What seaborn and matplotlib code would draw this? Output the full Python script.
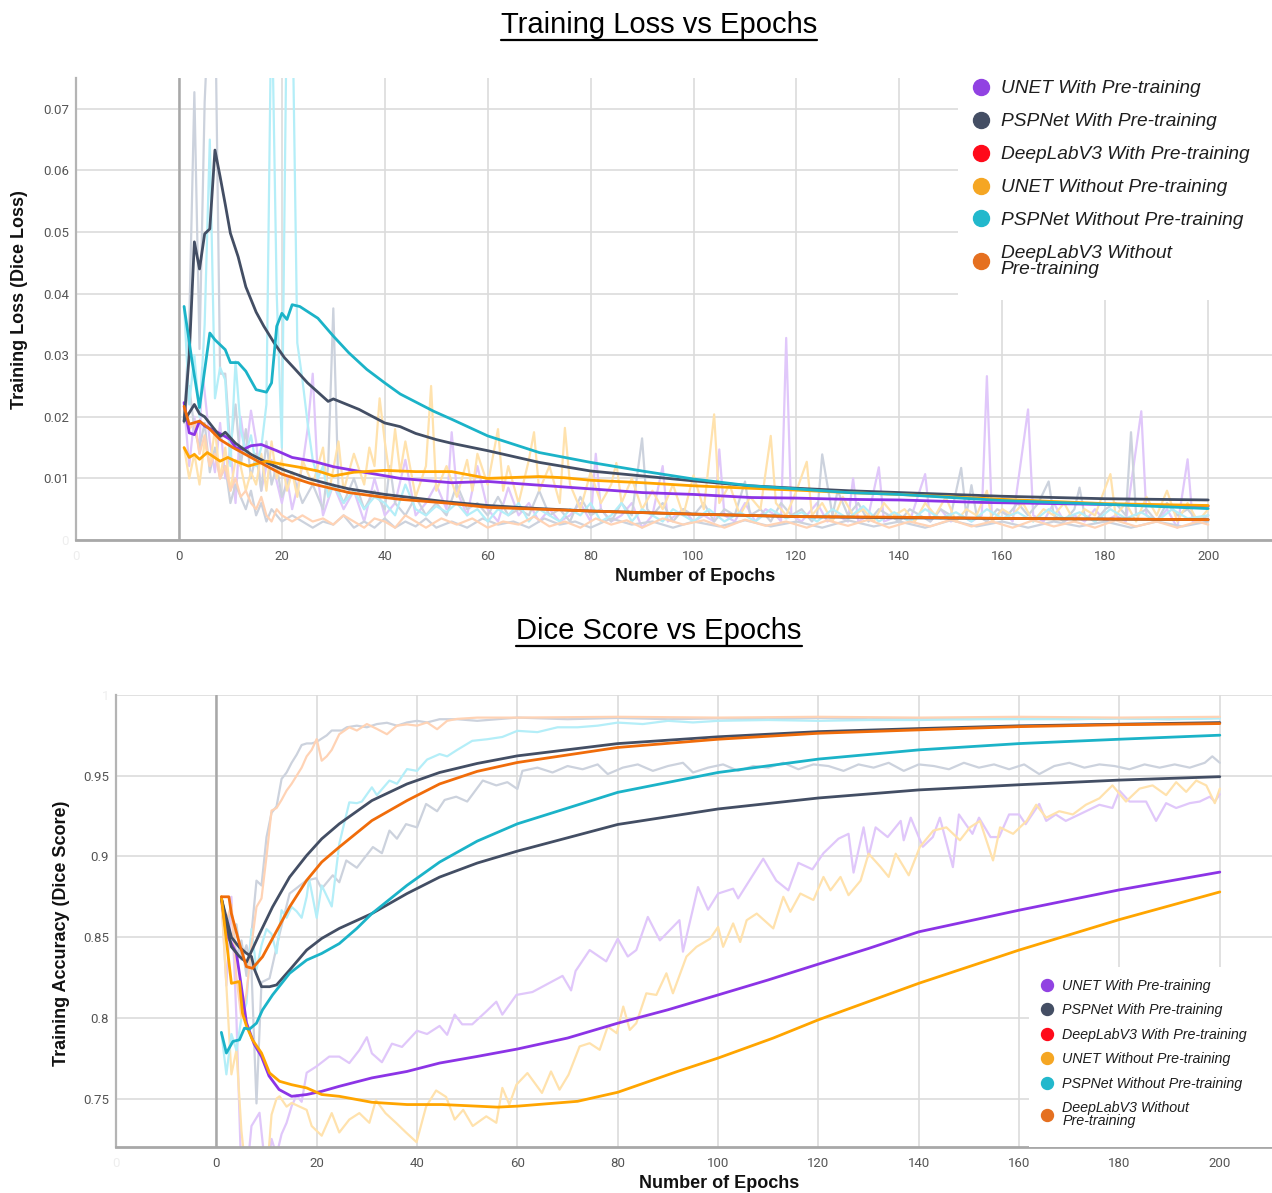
import matplotlib
matplotlib.use("Agg")
import matplotlib.pyplot as plt
from matplotlib.lines import Line2D
from matplotlib.patches import Rectangle
import pandas as pd
import seaborn as sns

# ---- data (epoch, value) ----
legend_names = [
    "UNET With Pre-training",
    "PSPNet With Pre-training",
    "DeepLabV3 With Pre-training",
    "UNET Without Pre-training",
    "PSPNet Without Pre-training",
    "DeepLabV3 Without\nPre-training",
]
series_keys = ["unet_pre", "psp_pre", "dlv3_pre", "unet_nopre", "psp_nopre", "dlv3_nopre"]

# training loss, raw per-epoch curves
loss_unet_pre_raw = [(1,0.022),(2,0.012),(3,0.020),(4,0.014),(4.5,0.028),(6,0.016),(7,0.011),(8,0.019),(9,0.010),(10,0.015),(11,0.006),(12,0.020),(13,0.014),(14,0.021),(15,0.016),(16,0.008),(17,0.012),(18,0.013),(20,0.006),(21,0.010),(22,0.005),(24,0.012),(25,0.018),(26,0.027),(27,0.010),(28,0.004),(30,0.009),(32,0.005),(34,0.008),(36,0.003),(38,0.010),(40,0.004),(42,0.006),(44,0.013),(46,0.004),(48,0.006),(50,0.009),(52,0.005),(53,0.0175),(54,0.008),(56,0.004),(58,0.012),(60,0.005),(62,0.003),(64,0.0085),(66,0.004),(68,0.006),(70,0.003),(72,0.005),(74,0.003),(76,0.004),(78,0.006),(80,0.003),(81,0.014),(82,0.005),(84,0.003),(86,0.004),(88,0.006),(90,0.002),(92,0.004),(94,0.012),(95,0.003),(98,0.005),(100,0.003),(102,0.004),(104,0.003),(105,0.0147),(106,0.004),(108,0.003),(110,0.006),(112,0.003),(114,0.005),(116,0.004),(117,0.003),(118,0.0328),(119,0.004),(121,0.003),(124,0.006),(126,0.003),(128,0.004),(130,0.003),(131,0.010),(132,0.003),(134,0.004),(136,0.0118),(137,0.003),(140,0.004),(142,0.003),(145,0.0107),(146,0.003),(148,0.005),(150,0.003),(152,0.004),(154,0.003),(156,0.004),(157,0.0266),(158,0.003),(160,0.005),(162,0.003),(165,0.0212),(166,0.004),(168,0.003),(170,0.006),(172,0.003),(174,0.004),(176,0.003),(178,0.005),(180,0.003),(182,0.004),(184,0.003),(187,0.0209),(188,0.004),(190,0.003),(192,0.005),(194,0.002),(196,0.0131),(197,0.003),(200,0.004)]
loss_psp_pre_raw = [(1,0.019),(2,0.035),(3,0.0727),(4,0.031),(5,0.0711),(6,0.09),(7,0.09),(8,0.027),(9,0.027),(10,0.015),(11,0.022),(12,0.012),(13,0.018),(14,0.010),(15,0.014),(16,0.008),(17,0.016),(18,0.009),(19,0.012),(20,0.007),(22,0.011),(24,0.006),(26,0.009),(28,0.005),(29,0.012),(30,0.0376),(31,0.008),(32,0.006),(34,0.010),(36,0.005),(38,0.008),(40,0.005),(41,0.012),(42,0.006),(44,0.004),(46,0.007),(48,0.004),(50,0.006),(52,0.004),(54,0.009),(56,0.005),(58,0.006),(60,0.004),(62,0.007),(64,0.004),(66,0.005),(68,0.004),(70,0.008),(72,0.004),(74,0.005),(76,0.003),(78,0.007),(80,0.004),(82,0.005),(84,0.003),(86,0.006),(88,0.004),(90,0.0165),(91,0.005),(92,0.004),(94,0.006),(96,0.003),(98,0.005),(100,0.004),(102,0.006),(104,0.003),(106,0.005),(108,0.004),(110,0.0095),(111,0.004),(113,0.005),(115,0.003),(117,0.006),(119,0.004),(121,0.005),(123,0.003),(124,0.004),(125,0.0139),(127,0.004),(128,0.008),(130,0.004),(132,0.006),(134,0.003),(136,0.005),(138,0.004),(140,0.003),(142,0.005),(144,0.004),(146,0.003),(148,0.005),(150,0.004),(152,0.0117),(153,0.004),(154,0.0089),(155,0.004),(157,0.003),(159,0.005),(161,0.004),(163,0.006),(165,0.004),(167,0.006),(169,0.0095),(170,0.004),(172,0.003),(174,0.005),(175,0.0085),(176,0.004),(178,0.003),(180,0.005),(182,0.006),(184,0.004),(185,0.0175),(186,0.004),(188,0.005),(190,0.003),(192,0.006),(194,0.004),(196,0.005),(198,0.003),(200,0.004)]
loss_dlv3_pre_raw = [(1,0.020),(2,0.025),(3,0.018),(4,0.015),(5,0.019),(6,0.011),(7,0.015),(8,0.010),(9,0.012),(10,0.006),(11,0.009),(12,0.007),(13,0.005),(14,0.008),(15,0.004),(16,0.006),(17,0.003),(18,0.005),(20,0.003),(22,0.004),(24,0.003),(26,0.002),(28,0.003),(30,0.0025),(32,0.004),(34,0.002),(36,0.003),(38,0.002),(40,0.0035),(42,0.002),(44,0.003),(46,0.0022),(48,0.0035),(50,0.002),(53,0.003),(56,0.002),(59,0.0035),(62,0.0025),(65,0.003),(68,0.002),(71,0.0035),(74,0.0025),(77,0.003),(80,0.002),(84,0.0035),(88,0.0025),(92,0.003),(96,0.002),(100,0.003),(105,0.0022),(110,0.0032),(115,0.0022),(120,0.003),(125,0.002),(130,0.0032),(135,0.0022),(140,0.003),(145,0.002),(150,0.0032),(155,0.0022),(160,0.003),(165,0.002),(170,0.003),(175,0.0022),(180,0.003),(185,0.002),(190,0.003),(195,0.0022),(200,0.003)]
loss_unet_nopre_raw = [(1,0.015),(2,0.010),(3,0.014),(4,0.009),(5,0.016),(6,0.012),(7,0.018),(8,0.010),(9,0.015),(10,0.008),(11,0.013),(12,0.012),(13,0.008),(14,0.011),(15,0.009),(16,0.014),(17,0.008),(18,0.016),(19,0.010),(20,0.013),(21,0.008),(22,0.011),(23,0.007),(24,0.013),(26,0.009),(28,0.015),(29,0.007),(31,0.016),(32,0.008),(34,0.014),(36,0.009),(37,0.015),(38,0.012),(39,0.023),(40,0.016),(41,0.010),(42,0.018),(43,0.011),(44,0.016),(46,0.007),(48,0.012),(49,0.025),(50,0.008),(52,0.012),(54,0.007),(56,0.013),(57,0.008),(58,0.014),(60,0.009),(62,0.018),(63,0.008),(64,0.012),(66,0.006),(68,0.013),(69,0.0175),(70,0.008),(72,0.012),(74,0.006),(75,0.0182),(76,0.009),(78,0.005),(80,0.011),(82,0.006),(84,0.009),(85,0.0125),(86,0.006),(88,0.010),(90,0.005),(92,0.008),(94,0.005),(96,0.009),(98,0.004),(100,0.0105),(102,0.005),(104,0.0204),(105,0.006),(107,0.009),(109,0.004),(111,0.007),(113,0.005),(115,0.0169),(116,0.006),(118,0.004),(120,0.008),(122,0.0127),(123,0.004),(125,0.006),(127,0.003),(129,0.007),(131,0.004),(133,0.005),(135,0.003),(137,0.006),(139,0.004),(141,0.005),(143,0.003),(145,0.006),(147,0.004),(149,0.007),(151,0.003),(153,0.005),(155,0.004),(157,0.008),(158,0.003),(160,0.005),(162,0.004),(164,0.006),(166,0.003),(168,0.005),(170,0.004),(172,0.006),(174,0.003),(176,0.005),(178,0.004),(181,0.0107),(182,0.004),(184,0.006),(186,0.003),(188,0.007),(190,0.004),(192,0.008),(194,0.003),(196,0.006),(198,0.003),(200,0.005)]
loss_psp_nopre_raw = [(1,0.038),(2,0.022),(3,0.030),(4,0.020),(5,0.035),(6,0.065),(7,0.023),(8,0.028),(9,0.026),(10,0.012),(11,0.029),(12,0.018),(13,0.014),(14,0.017),(15,0.012),(16,0.015),(17,0.022),(18,0.09),(19,0.04),(20,0.015),(21,0.09),(22,0.09),(23,0.032),(24,0.026),(25,0.019),(26,0.013),(27,0.010),(28,0.012),(29,0.007),(30,0.009),(32,0.006),(34,0.008),(36,0.005),(38,0.007),(40,0.006),(42,0.004),(44,0.009),(46,0.005),(48,0.004),(50,0.0055),(52,0.0045),(54,0.006),(56,0.004),(58,0.005),(60,0.003),(62,0.005),(64,0.004),(66,0.006),(68,0.003),(70,0.005),(72,0.004),(74,0.003),(76,0.005),(78,0.004),(80,0.006),(82,0.003),(84,0.004),(86,0.006),(88,0.003),(90,0.005),(92,0.004),(94,0.003),(96,0.005),(98,0.004),(100,0.003),(103,0.005),(106,0.003),(109,0.0045),(112,0.003),(115,0.005),(118,0.0035),(121,0.0045),(124,0.003),(127,0.005),(130,0.0035),(133,0.0055),(136,0.003),(139,0.0045),(142,0.003),(145,0.005),(148,0.0035),(151,0.0045),(154,0.003),(157,0.005),(160,0.0035),(163,0.0045),(166,0.003),(169,0.005),(172,0.0035),(175,0.0045),(178,0.003),(181,0.005),(184,0.0035),(187,0.0045),(190,0.003),(193,0.005),(196,0.0035),(200,0.004)]
loss_dlv3_nopre_raw = [(1,0.021),(2,0.018),(3,0.019),(4,0.014),(5,0.017),(6,0.012),(7,0.014),(8,0.010),(9,0.012),(10,0.008),(11,0.010),(12,0.007),(13,0.008),(14,0.006),(15,0.005),(16,0.007),(17,0.004),(18,0.003),(19,0.005),(20,0.004),(22,0.003),(24,0.004),(26,0.003),(28,0.0035),(30,0.0025),(32,0.004),(34,0.003),(36,0.002),(38,0.0035),(40,0.003),(42,0.002),(44,0.004),(46,0.003),(48,0.002),(51,0.0035),(54,0.0025),(57,0.0035),(60,0.002),(63,0.003),(66,0.0025),(69,0.0038),(72,0.0022),(75,0.003),(78,0.002),(81,0.0035),(84,0.0025),(87,0.0032),(90,0.002),(94,0.0035),(98,0.0025),(102,0.0032),(106,0.002),(110,0.0033),(114,0.0023),(118,0.003),(122,0.002),(126,0.0032),(130,0.0023),(134,0.0033),(138,0.002),(142,0.003),(146,0.0022),(150,0.0033),(154,0.0022),(158,0.003),(162,0.002),(166,0.0032),(170,0.0022),(174,0.003),(178,0.002),(182,0.0032),(186,0.0022),(190,0.003),(194,0.002),(198,0.003),(200,0.0025)]

# training loss, smoothed curves
loss_unet_pre = [(1,0.0223),(2,0.0174),(3,0.0171),(4,0.0193),(5,0.0185),(7,0.0177),(9,0.0168),(10,0.0163),(11,0.0150),(12.5,0.0147),(14,0.0153),(16,0.0155),(19,0.0145),(22,0.0134),(26,0.0128),(30,0.0119),(36,0.0110),(43,0.0100),(53,0.0093),(60,0.0095),(70,0.0089),(80,0.0083),(90,0.0077),(100,0.0074),(111,0.0069),(120,0.0068),(130,0.0066),(140,0.0065),(156,0.0061),(200,0.0055)]
loss_psp_pre = [(1,0.0193),(2,0.030),(3,0.0484),(4,0.0440),(5,0.0497),(6,0.0505),(7,0.0633),(8,0.0590),(9,0.0545),(10,0.0498),(11.5,0.0460),(13,0.0411),(15,0.0370),(16.5,0.0347),(18.5,0.0320),(20.5,0.0296),(22.5,0.0278),(25,0.0255),(29,0.0225),(30,0.0229),(35,0.0212),(40,0.0190),(43,0.0184),(46,0.0173),(50,0.0163),(53,0.0157),(60,0.0145),(70,0.0126),(80,0.0112),(90,0.0104),(100,0.0096),(111,0.0088),(120,0.0084),(130,0.0080),(140,0.0077),(160,0.0071),(180,0.0067),(200,0.0065)]
loss_dlv3_pre = [(1,0.0193),(3,0.0220),(4,0.0205),(5,0.0200),(6.5,0.0184),(8,0.0168),(9,0.0175),(11,0.0157),(14,0.0139),(17.5,0.0124),(20,0.0115),(25,0.0100),(30,0.0089),(33,0.0083),(40,0.0074),(43,0.0071),(52,0.0062),(60,0.0056),(70,0.0051),(80,0.0047),(100,0.0042),(120,0.0038),(140,0.0036),(160,0.0035),(180,0.0034),(200,0.0033)]
loss_unet_nopre = [(1,0.0150),(2,0.0134),(3,0.0139),(4,0.0131),(5.5,0.0142),(8,0.0128),(9.5,0.0134),(11,0.0128),(13.5,0.0120),(17,0.0128),(20,0.0123),(23.5,0.0118),(27,0.0112),(30,0.0104),(34,0.0110),(40,0.0113),(46,0.0111),(53,0.0111),(60,0.0100),(70,0.0103),(75,0.0101),(80,0.0097),(90,0.0093),(100,0.0088),(111,0.0084),(120,0.0081),(130,0.0077),(140,0.0074),(160,0.0066),(180,0.0059),(200,0.0056)]
loss_psp_nopre = [(1,0.0379),(2.5,0.0293),(4,0.0215),(6,0.0336),(7,0.0325),(9,0.0309),(10,0.0288),(11.5,0.0288),(13,0.0274),(15,0.0244),(17,0.0240),(18,0.0255),(19,0.0347),(20,0.0368),(21,0.0358),(22,0.0382),(23.5,0.0379),(27,0.0360),(30,0.0331),(33,0.0304),(36.5,0.0277),(40,0.0255),(43,0.0237),(49.5,0.0209),(53,0.0196),(60,0.0169),(70,0.0142),(80,0.0126),(90,0.0112),(100,0.0099),(111,0.0088),(120,0.0083),(130,0.0077),(140,0.0074),(160,0.0064),(180,0.0058),(200,0.0051)]
loss_dlv3_nopre = [(1,0.0217),(2,0.0188),(4,0.0193),(6,0.0180),(8,0.0163),(10.5,0.0150),(14,0.0134),(17.5,0.0118),(20,0.0107),(25.5,0.0092),(33,0.0077),(40,0.0069),(43,0.0066),(52,0.0060),(60,0.0053),(80,0.0047),(100,0.0042),(120,0.0038),(140,0.0037),(160,0.0035),(180,0.0034),(200,0.0033)]

# dice score, raw per-epoch curves
dice_unet_pre_raw = [(1,0.874),(2,0.82),(3,0.875),(4,0.80),(5,0.70),(6,0.70),(7,0.733),(8.6,0.7412),(10,0.70),(11,0.725),(12,0.715),(13,0.728),(14,0.735),(15,0.7453),(16,0.752),(17,0.748),(18,0.766),(20,0.770),(22.5,0.776),(24.5,0.776),(26.5,0.772),(28.5,0.780),(30,0.788),(31,0.778),(33,0.7725),(35,0.784),(37,0.782),(40,0.792),(42,0.790),(44.5,0.795),(46,0.7895),(47.5,0.802),(49,0.796),(51,0.796),(53.8,0.804),(55.8,0.810),(57,0.802),(59.8,0.8142),(63,0.816),(66,0.821),(69,0.826),(70.7,0.817),(71.6,0.829),(74.4,0.842),(77.7,0.835),(80,0.849),(82,0.838),(83.7,0.842),(86,0.8625),(88.4,0.848),(92.3,0.8605),(93,0.841),(96,0.881),(98,0.867),(100,0.877),(103,0.880),(104,0.874),(109,0.8986),(111.6,0.885),(114,0.879),(116,0.896),(118.8,0.892),(121,0.902),(124,0.911),(126,0.914),(127,0.890),(129,0.918),(130,0.900),(131.4,0.918),(133.8,0.912),(136.4,0.922),(137,0.910),(138.4,0.924),(140.8,0.906),(142.8,0.912),(144.2,0.924),(146.8,0.8934),(148,0.926),(150.7,0.914),(152,0.924),(154.3,0.912),(156,0.912),(158,0.926),(160,0.926),(161.3,0.920),(164,0.9325),(165.4,0.922),(167.3,0.926),(169.3,0.922),(172,0.926),(174,0.929),(176,0.932),(178.6,0.930),(180,0.9407),(182,0.934),(185.3,0.934),(187.3,0.922),(189.3,0.933),(191.3,0.930),(194,0.933),(196,0.934),(198,0.937),(199,0.934),(200,0.9385)]
dice_psp_pre_raw = [(1,0.874),(2,0.86),(3,0.85),(4,0.858),(5,0.836),(6,0.845),(7,0.83),(8,0.747),(9,0.822),(10.6,0.8245),(12.6,0.852),(14.6,0.877),(17.9,0.885),(19.9,0.8865),(21,0.880),(23.2,0.8883),(24.5,0.884),(25.9,0.8975),(28,0.893),(31.2,0.9058),(33,0.902),(34.5,0.916),(36,0.911),(37.8,0.920),(40,0.918),(41.8,0.9325),(44,0.928),(45.5,0.935),(47.8,0.937),(50,0.934),(53.1,0.947),(55.8,0.944),(58,0.946),(60,0.9418),(61,0.953),(64,0.955),(67,0.952),(70,0.956),(73,0.954),(76,0.957),(78,0.951),(81,0.955),(84,0.957),(87,0.953),(90,0.956),(93,0.958),(95,0.952),(98,0.955),(101,0.957),(104,0.953),(107,0.956),(110,0.955),(113,0.958),(116,0.954),(119,0.957),(122,0.956),(125,0.953),(128,0.957),(131,0.955),(134,0.958),(137,0.953),(140,0.957),(143,0.956),(146,0.954),(149,0.958),(152,0.955),(155,0.957),(158,0.954),(161,0.957),(164,0.951),(167,0.956),(170,0.958),(173,0.955),(176,0.957),(179,0.956),(182,0.954),(185,0.957),(188,0.955),(191,0.957),(194,0.955),(197,0.958),(198.5,0.962),(200,0.958)]
dice_dlv3_pre_raw = [(1,0.874),(2,0.858),(3,0.866),(4,0.838),(5,0.848),(6,0.826),(7,0.852),(8,0.885),(9,0.882),(10,0.912),(11,0.927),(12,0.931),(13,0.948),(14,0.952),(15,0.958),(16,0.963),(17,0.969),(18,0.970),(19,0.970),(20,0.971),(22,0.975),(23,0.978),(25,0.978),(26,0.980),(28,0.981),(30,0.980),(32,0.982),(34,0.9828),(36,0.981),(38,0.983),(40,0.984),(42,0.983),(44.5,0.985),(48,0.985),(52,0.984),(56,0.985),(60,0.986),(70,0.985),(80,0.9858),(90,0.985),(100,0.9855),(110,0.985),(120,0.9858),(130,0.985),(140,0.9855),(150,0.985),(160,0.9858),(170,0.985),(180,0.9855),(190,0.985),(200,0.9858)]
dice_unet_nopre_raw = [(1,0.875),(2,0.82),(3,0.765),(4,0.78),(5,0.73),(6,0.70),(7,0.71),(8,0.70),(9,0.715),(10,0.70),(11,0.74),(12,0.75),(12.6,0.7514),(14,0.745),(15,0.7473),(18,0.743),(19,0.733),(21,0.727),(23,0.741),(24.5,0.729),(26.5,0.737),(28.5,0.741),(30.5,0.735),(31.8,0.749),(33.7,0.741),(35.8,0.735),(37.8,0.729),(39.9,0.723),(41.8,0.745),(43.8,0.755),(45.8,0.751),(47.5,0.737),(49.2,0.743),(51.1,0.733),(53.8,0.739),(55.8,0.735),(57,0.7566),(58.4,0.7463),(59.8,0.7586),(62,0.7658),(64.9,0.7535),(66.7,0.7668),(68.4,0.7555),(70.2,0.7648),(72.4,0.7823),(74.4,0.7843),(76.4,0.7802),(78,0.7946),(79.8,0.7905),(81.1,0.807),(82.4,0.7925),(83.7,0.7967),(85.7,0.8152),(87.7,0.8142),(89.7,0.8276),(91,0.8152),(93.7,0.838),(95.7,0.844),(98.4,0.849),(100,0.8563),(101,0.844),(103,0.8585),(104.4,0.847),(105.7,0.8605),(107.7,0.8646),(111,0.8554),(113,0.875),(114.4,0.8657),(116.4,0.877),(119,0.873),(121,0.8873),(122.4,0.879),(124.4,0.8873),(126,0.876),(128.4,0.885),(130,0.9017),(132.4,0.8934),(134,0.8873),(135.4,0.9017),(138,0.8883),(140.2,0.9058),(142.9,0.916),(145.5,0.918),(148.2,0.910),(150.2,0.918),(152.2,0.922),(154.8,0.8975),(156.2,0.918),(158.8,0.914),(161.5,0.922),(163.4,0.932),(165.4,0.924),(168,0.928),(170.7,0.926),(173.3,0.932),(176,0.936),(178.6,0.944),(181.3,0.934),(184,0.942),(186.6,0.944),(189.3,0.938),(191.3,0.946),(193.3,0.940),(195.3,0.947),(197.3,0.944),(199,0.933),(200,0.942)]
dice_psp_nopre_raw = [(1,0.791),(2,0.765),(3,0.79),(4,0.78),(5,0.80),(6,0.809),(7,0.855),(8,0.83),(9,0.845),(10,0.855),(11,0.852),(12,0.84),(13,0.8667),(14,0.862),(15,0.8687),(16,0.866),(17,0.862),(18,0.875),(18.5,0.886),(20,0.862),(21,0.882),(23,0.869),(24.5,0.9078),(26.5,0.9335),(28,0.933),(29,0.934),(31,0.9428),(32,0.938),(34.5,0.947),(36,0.945),(38,0.9541),(40,0.953),(42,0.960),(44.5,0.9634),(46,0.962),(48,0.966),(51,0.9716),(54,0.9726),(57,0.974),(60,0.9778),(64,0.977),(68,0.980),(72,0.980),(76,0.981),(80,0.9829),(85,0.982),(90,0.984),(95,0.983),(100,0.984),(110,0.9845),(120,0.984),(130,0.9845),(140,0.9845),(150,0.985),(160,0.985),(170,0.985),(180,0.9855),(190,0.985),(200,0.9855)]
dice_dlv3_nopre_raw = [(1,0.875),(2,0.86),(3,0.87),(4,0.825),(5,0.80),(6,0.815),(7,0.845),(8,0.8687),(9,0.874),(10,0.90),(11,0.9284),(12,0.93),(13,0.935),(14,0.9408),(15,0.945),(16,0.950),(17,0.955),(18,0.962),(19,0.966),(20,0.9727),(21,0.9593),(22,0.962),(23,0.966),(24.5,0.9757),(26.5,0.980),(28,0.978),(30,0.982),(32,0.979),(34,0.9757),(36,0.981),(38,0.9818),(40,0.981),(42,0.983),(44,0.9788),(46,0.984),(48,0.9852),(52,0.986),(60,0.986),(80,0.9865),(100,0.986),(120,0.9865),(140,0.986),(160,0.9865),(180,0.986),(200,0.9865)]

# dice score, smoothed curves
dice_unet_pre = [(1,0.874),(2,0.852),(4,0.840),(5,0.819),(6,0.797),(7.5,0.784),(9,0.776),(10.5,0.764),(12.5,0.7556),(15,0.7514),(18,0.7525),(21,0.7545),(24.5,0.7576),(31,0.7628),(38,0.7668),(44.5,0.772),(52,0.7761),(60,0.7807),(70,0.7875),(80,0.7967),(90,0.805),(100,0.8142),(110,0.8235),(120,0.8333),(130,0.843),(140,0.8533),(160,0.8667),(180,0.8793),(200,0.8903)]
dice_psp_pre = [(1,0.874),(3,0.850),(4.5,0.844),(6,0.840),(7,0.838),(7.6,0.830),(9,0.8193),(10.6,0.8193),(12,0.8204),(14.6,0.8296),(18,0.842),(21,0.8492),(24.5,0.8554),(31,0.8646),(38,0.877),(44.5,0.8872),(52,0.8959),(60,0.9033),(80,0.9198),(100,0.9294),(120,0.9362),(140,0.9412),(160,0.9444),(180,0.9473),(200,0.9494)]
dice_dlv3_pre = [(1,0.8739),(3,0.844),(4.6,0.838),(6,0.8345),(8.6,0.852),(11.2,0.8687),(14.6,0.8872),(18,0.9006),(21,0.9109),(24.5,0.9202),(31,0.9346),(38,0.9449),(44.5,0.952),(52,0.9576),(60,0.9623),(80,0.9699),(100,0.9741),(120,0.9773),(140,0.9792),(160,0.9809),(180,0.9819),(200,0.9829)]
dice_unet_nopre = [(1,0.875),(2,0.848),(3,0.8214),(4.6,0.8225),(5.2,0.803),(6,0.795),(7.2,0.7864),(9,0.7782),(10.6,0.7659),(12.6,0.7607),(15,0.7586),(18,0.7566),(21,0.7525),(24.5,0.7514),(31,0.7477),(38,0.7463),(45,0.7463),(52,0.7453),(56,0.7447),(60,0.7453),(72,0.7483),(80,0.7539),(92,0.7669),(100,0.7751),(111,0.7875),(120,0.7988),(140,0.8214),(160,0.842),(180,0.8609),(200,0.878)]
dice_psp_nopre = [(1,0.791),(2,0.7782),(3.3,0.7854),(4.6,0.7864),(5.6,0.7936),(6.6,0.793),(8,0.7967),(9.2,0.8049),(11.2,0.8142),(14.6,0.8276),(18,0.8358),(21,0.8399),(24.5,0.846),(28,0.8554),(31,0.8646),(38,0.8821),(44.5,0.8965),(52,0.9095),(60,0.9202),(80,0.9397),(100,0.952),(120,0.9603),(140,0.966),(160,0.9699),(180,0.9726),(200,0.9751)]
dice_dlv3_nopre = [(1,0.875),(2.5,0.875),(3,0.8646),(4.6,0.846),(6,0.8317),(7.2,0.8307),(9.2,0.8378),(11.2,0.8492),(14.6,0.8687),(18,0.8852),(21,0.8965),(24.5,0.9058),(31,0.9222),(38,0.9346),(44.5,0.9449),(52,0.9527),(60,0.9582),(80,0.9675),(100,0.9726),(120,0.9763),(140,0.9784),(160,0.9804),(180,0.9816),(200,0.9823)]

loss_ticks = [0, 0.01, 0.02, 0.03, 0.04, 0.05, 0.06, 0.07]
loss_tick_labels = ["0", "0.01", "0.02", "0.03", "0.04", "0.05", "0.06", "0.07"]
dice_ticks = [0.75, 0.8, 0.85, 0.9, 0.95, 1.0]
dice_tick_labels = ["0.75", "0.8", "0.85", "0.9", "0.95", "1"]
epoch_ticks = [-20, 0, 20, 40, 60, 80, 100, 120, 140, 160, 180, 200]
epoch_tick_labels = ["0", "0", "20", "40", "60", "80", "100", "120", "140", "160", "180", "200"]

# ---- styling ----
legend_colors = ["#9142e2", "#444e64", "#ff0a1a", "#f5a623", "#22b8cc", "#e57020"]
line_colors = {"unet_pre": "#8c34e6", "psp_pre": "#434e64", "dlv3_pre": "#434e64",
               "unet_nopre": "#ffa500", "psp_nopre": "#1bb3c8", "dlv3_nopre": "#f06c0a"}
raw_colors = {"unet_pre": "#e0c7fa", "psp_pre": "#ccd2dd", "dlv3_pre": "#ccd2dd",
              "unet_nopre": "#ffe2ad", "psp_nopre": "#b4eef8", "dlv3_nopre": "#ffd3b5"}

W, H = 1272, 1193


def long_frame(series):
    rows = [(key, ep, val) for key, pts in zip(series_keys, series) for ep, val in pts]
    return pd.DataFrame(rows, columns=["model", "epoch", "value"])


def draw_panel(ax, raw, smooth, xlim, ylim, yticks, ylabels, faint_y):
    sns.lineplot(data=long_frame(raw), x="epoch", y="value", hue="model",
                 palette=raw_colors, estimator=None, sort=False, linewidth=1.6,
                 legend=False, ax=ax, zorder=2)
    sns.lineplot(data=long_frame(smooth), x="epoch", y="value", hue="model",
                 palette=line_colors, estimator=None, sort=False, linewidth=2.0,
                 legend=False, ax=ax, zorder=3)
    ax.set_xlim(*xlim)
    ax.set_ylim(*ylim)
    ax.set_xticks(epoch_ticks)
    ax.set_xticklabels(epoch_tick_labels)
    ax.set_yticks(yticks)
    ax.set_yticklabels(ylabels)
    ax.set(xlabel=None, ylabel=None)
    ax.grid(True, color="#dcdcdc", linewidth=1.2)
    ax.set_axisbelow(True)
    ax.axvline(0, color="#a8a8a8", linewidth=1.8, zorder=1.5)
    for side in ("top", "right"):
        ax.spines[side].set_visible(False)
    ax.spines["left"].set_color("#b4b4b4")
    ax.spines["left"].set_linewidth(1.6)
    ax.spines["bottom"].set_color("#a8a8a8")
    ax.spines["bottom"].set_linewidth(2.0)
    ax.tick_params(length=0, labelsize=9.5, labelcolor="#555555")
    ax.tick_params(axis="x", pad=7)
    ax.tick_params(axis="y", pad=5)
    for lbl in ax.get_xticklabels() + ax.get_yticklabels():
        lbl.set_fontfamily("Roboto")
    ax.get_xticklabels()[0].set_color("#eeeeee")
    ax.get_yticklabels()[faint_y].set_color("#eeeeee")


def add_legend(ax, rect, anchor, size, msize, spacing):
    ax.add_patch(Rectangle(rect[:2], rect[2], rect[3], transform=ax.transAxes,
                           facecolor="white", edgecolor="none", zorder=4))
    handles = [Line2D([], [], marker="o", linestyle="", markersize=msize,
                      markerfacecolor=c, markeredgecolor=c) for c in legend_colors]
    leg = ax.legend(handles, legend_names, loc="upper left",
                    bbox_to_anchor=(anchor[0] / W, 1 - anchor[1] / H),
                    bbox_transform=ax.figure.transFigure, frameon=False,
                    prop={"family": "Liberation Sans", "style": "italic", "size": size},
                    handlelength=1.0, handletextpad=0.55, labelspacing=spacing,
                    borderpad=0, borderaxespad=0, labelcolor="#1e1e1e")
    leg.set_zorder(5)
    leg.get_texts()[-1].set_linespacing(0.93)


sns.set_theme(style="white")
plt.rcParams["font.family"] = ["Liberation Sans", "DejaVu Sans"]

fig = plt.figure(figsize=(W / 100, H / 100), dpi=100)
ax_loss = fig.add_axes([76 / W, 1 - 540 / H, 1196 / W, 462 / H])
ax_dice = fig.add_axes([116 / W, 1 - 1147 / H, 1156 / W, 452 / H])

draw_panel(ax_loss,
           [loss_unet_pre_raw, loss_psp_pre_raw, loss_dlv3_pre_raw,
            loss_unet_nopre_raw, loss_psp_nopre_raw, loss_dlv3_nopre_raw],
           [loss_unet_pre, loss_psp_pre, loss_dlv3_pre,
            loss_unet_nopre, loss_psp_nopre, loss_dlv3_nopre],
           (-20, 212.4), (0, 0.075), loss_ticks, loss_tick_labels, 0)
draw_panel(ax_dice,
           [dice_unet_pre_raw, dice_psp_pre_raw, dice_dlv3_pre_raw,
            dice_unet_nopre_raw, dice_psp_nopre_raw, dice_dlv3_nopre_raw],
           [dice_unet_pre, dice_psp_pre, dice_dlv3_pre,
            dice_unet_nopre, dice_psp_nopre, dice_dlv3_nopre],
           (-20, 210.4), (0.72, 1.0), dice_ticks, dice_tick_labels, -1)

add_legend(ax_loss, (0.7375, 0.5195, 0.2625, 0.4805), (971, 80), 13.8, 11.5, 0.81)
add_legend(ax_dice, (0.7898, 0.0, 0.2102, 0.398), (1040, 979), 10.3, 8.6, 0.73)

# titles and axis labels
titles = [
    fig.text(659 / W, 1 - 33 / H, "Training Loss vs Epochs", ha="center",
             va="baseline", fontsize=21, color="black"),
    fig.text(659 / W, 1 - 639 / H, "Dice Score vs Epochs", ha="center",
             va="baseline", fontsize=21, color="black"),
]
fig.text(20 / W, 1 - 300 / H, "Training Loss (Dice Loss)", rotation=90,
         ha="center", va="center", fontsize=13, fontweight="bold", color="#111111")
fig.text(62 / W, 1 - 933 / H, "Training Accuracy (Dice Score)", rotation=90,
         ha="center", va="center", fontsize=13, fontweight="bold", color="#111111")
fig.text(695 / W, 1 - 577 / H, "Number of Epochs", ha="center", va="center",
         fontsize=13, fontweight="bold", color="#111111")
fig.text(719 / W, 1 - 1183 / H, "Number of Epochs", ha="center", va="center",
         fontsize=13, fontweight="bold", color="#111111")

# underline the two titles
fig.canvas.draw()
renderer = fig.canvas.get_renderer()
for t, y_px in zip(titles, (39.5, 645.5)):
    bb = t.get_window_extent(renderer)
    fig.add_artist(Line2D([bb.x0 / W, bb.x1 / W], [1 - y_px / H, 1 - y_px / H],
                          transform=fig.transFigure, color="black", linewidth=1.6))

fig.savefig("out.png", dpi=100)
plt.close(fig)
